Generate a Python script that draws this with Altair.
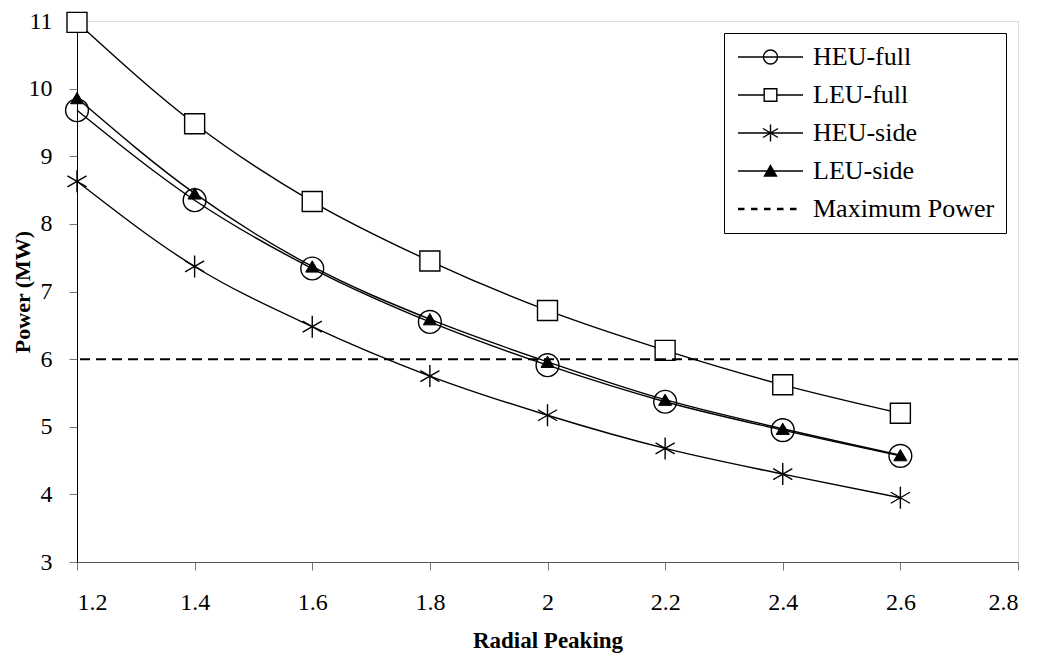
import altair as alt
import pandas as pd

# ---- data ----
x_vals = [1.2, 1.4, 1.6, 1.8, 2.0, 2.2, 2.4, 2.6]
heu_full = [9.68, 8.35, 7.34, 6.55, 5.91, 5.37, 4.95, 4.57]
leu_full = [10.98, 9.48, 8.33, 7.45, 6.72, 6.13, 5.62, 5.20]
heu_side = [8.63, 7.37, 6.48, 5.75, 5.17, 4.68, 4.30, 3.95]
leu_side = [9.86, 8.45, 7.37, 6.59, 5.96, 5.40, 4.97, 4.58]
max_power = [6.0]

series_names = ["HEU-full", "LEU-full", "HEU-side", "LEU-side"]
legend_names = series_names + ["Maximum Power"]
x_ticks = [1.2, 1.4, 1.6, 1.8, 2.0, 2.2, 2.4, 2.6, 2.8]
y_ticks = [3, 4, 5, 6, 7, 8, 9, 10, 11]

FONT = "Liberation Serif"

rows = []
for name, vals in zip(series_names, [heu_full, leu_full, heu_side, leu_side]):
    for xv, yv in zip(x_vals, vals):
        rows.append({"x": xv, "power": yv, "series": name})
df = pd.DataFrame(rows)

xscale = alt.Scale(domain=[1.2, 2.8], nice=False, zero=False)
yscale = alt.Scale(domain=[3, 11], nice=False, zero=False)

xaxis = alt.Axis(
    values=x_ticks, format="~g", grid=False,
    labelFont=FONT, labelFontSize=24, labelColor="black", labelPadding=20,
    tickSize=8, tickColor="#777", domainColor="#555",
    title="Radial Peaking", titleFont=FONT, titleFontSize=23,
    titleFontWeight="bold", titleColor="black",
    titleY=78, titleBaseline="middle",
)
yaxis = alt.Axis(
    values=y_ticks, format="d", grid=False,
    labelFont=FONT, labelFontSize=24, labelColor="black", labelPadding=17,
    tickSize=8, tickColor="#777", domainColor="black",
    title="Power (MW)", titleFont=FONT, titleFontSize=22,
    titleFontWeight="bold", titleColor="black",
    titleX=-55, titleBaseline="middle",
)

base = alt.Chart(df).encode(
    x=alt.X("x:Q", scale=xscale, axis=xaxis),
    y=alt.Y("power:Q", scale=yscale, axis=yaxis),
)

lines = base.mark_line(interpolate="monotone", color="black", strokeWidth=1.4).encode(
    detail="series:N"
)

ASTER = "M0,-1L0,1M-0.87,-0.5L0.87,0.5M-0.87,0.5L0.87,-0.5"
marker_styles = {
    "HEU-full": dict(shape="circle", size=520, filled=False, stroke="black", strokeWidth=1.4),
    "LEU-full": dict(shape="square", size=400, filled=True, fill="white", stroke="black", strokeWidth=1.4),
    "HEU-side": dict(shape=ASTER, size=484, filled=False, stroke="black", strokeWidth=1.4),
    "LEU-side": dict(shape="triangle-up", size=170, filled=True, fill="black", stroke="black", strokeWidth=1),
}
marker_layers = []
for name in series_names:
    marker_layers.append(
        base.transform_filter(alt.datum.series == name).mark_point(opacity=1, **marker_styles[name])
    )

rule = alt.Chart(pd.DataFrame({"power": max_power})).mark_rule(
    color="black", strokeWidth=2, strokeDash=[10, 6]
).encode(y=alt.Y("power:Q", scale=yscale))

# legend symbols (unit = 10 px): line from -1 to 5.5 with marker centred at 2.25
legend_paths = [
    "M-1,0H5.5M2.95,0A0.7,0.7,0,1,1,1.55,0A0.7,0.7,0,1,1,2.95,0Z",
    "M-1,0H1.62M2.88,0H5.5M1.62,-0.63H2.88V0.63H1.62Z",
    "M-1,0H5.5M2.25,-0.85V0.85M1.5,-0.45L3,0.45M1.5,0.45L3,-0.45",
    "M-1,0H5.5M2.25,-0.55L2.85,0.5L1.65,0.5Z",
    "M-1,-0.05H-0.35M-1,0.05H-0.35M0.3,-0.05H0.95M0.3,0.05H0.95M1.6,-0.05H2.25M1.6,0.05H2.25"
    "M2.9,-0.05H3.55M2.9,0.05H3.55M4.2,-0.05H4.85M4.2,0.05H4.85",
]
legend_fills = ["transparent", "white", "transparent", "black", "transparent"]
legend_strokes = ["black"] * 5

leg_props = dict(
    title=None, orient="none", legendX=647, legendY=12,
    labelFont=FONT, labelFontSize=26, labelColor="black", labelOffset=52,
    labelLimit=400,
    symbolSize=400, symbolStrokeWidth=1.4, symbolStrokeColor="black",
    padding=11, strokeColor="black", fillColor="white", rowPadding=12,
)
legend_layer = alt.Chart(pd.DataFrame({"entry": legend_names})).transform_filter(
    "false"
).mark_point(filled=False, stroke="black", strokeWidth=1.4, opacity=1).encode(
    shape=alt.Shape("entry:N", scale=alt.Scale(domain=legend_names, range=legend_paths),
                    legend=alt.Legend(**leg_props)),
    fill=alt.Fill("entry:N", scale=alt.Scale(domain=legend_names, range=legend_fills),
                  legend=alt.Legend(**leg_props)),
    stroke=alt.Stroke("entry:N", scale=alt.Scale(domain=legend_names, range=legend_strokes),
                      legend=alt.Legend(**leg_props)),
)

chart = alt.layer(lines, *marker_layers, rule, legend_layer).properties(
    width=941, height=541,
    autosize=alt.AutoSizeParams(type="none"),
    padding={"left": 69, "top": 13, "right": 15, "bottom": 93},
).configure_view(stroke="#888", strokeWidth=1).configure(background="white")

chart.save("out.html", embed_options={"renderer": "svg", "actions": False})
